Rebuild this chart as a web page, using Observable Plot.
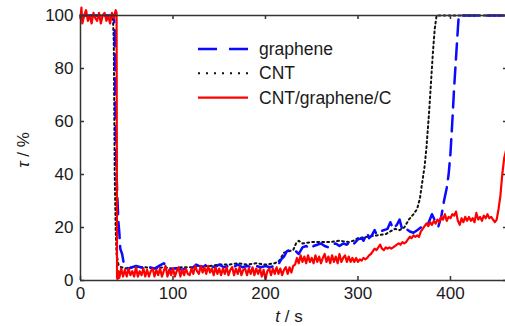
<!DOCTYPE html>
<html><head><meta charset="utf-8">
<script src="https://cdn.jsdelivr.net/npm/d3@7"></script>
<script src="https://cdn.jsdelivr.net/npm/@observablehq/plot@0.6"></script>
<style>html,body{margin:0;padding:0;background:#fff;}#chart{position:relative;width:505px;height:326px;}</style>
</head><body><div id="chart"></div>
<script>
const xTicks = [0, 100, 200, 300, 400];
const yTicks = [0, 20, 40, 60, 80, 100];
const seriesNames = ["graphene", "CNT", "CNT/graphene/C"];
const xLabel = ["t", " / s"];
const yLabel = ["τ", " / %"];

// [t (s), τ (%)]
const graphene = [[0,100],[36,100],[37,95],[38,60],[39,40],[40,30],[41,22],[42,18],[43,12],[45,10],[47,6],[49,5],[52,4.5],[56,5],[60,5.5],[65,5],[70,4.5],[75,5],[80,4.5],[85,5.5],[90,6.5],[93,5.5],[96,4],[100,4.5],[105,4.5],[110,4],[115,5],[120,4.5],[125,6],[128,5.5],[132,5],[136,6],[140,5.5],[145,5],[150,6],[155,5],[160,5.5],[165,5],[170,6],[175,5],[180,5.5],[185,5],[190,5.5],[195,5],[200,5.5],[205,5],[210,5.5],[214,6],[217,8],[220,9],[223,11],[226,11.5],[230,11],[233,11],[236,10],[240,12.5],[244,13],[248,12],[252,13],[256,13.5],[260,14],[264,13],[268,12.5],[272,13.5],[276,14],[280,13],[284,14],[288,13.5],[292,15],[296,14],[300,15.5],[304,16],[306,15],[310,18],[312,16],[315,17],[318,19],[320,17.5],[324,18.5],[328,19],[332,19.5],[335,22],[338,19.5],[342,21],[345,23],[348,19],[352,19.5],[356,18.5],[360,18],[364,19],[368,20],[372,20.5],[376,21.5],[380,25],[384,22],[387,20.5],[390,24],[393,30],[396,35],[398,40],[400,48],[402,60],[404,73],[406,84],[408,95],[409,100],[460,100]];

const cnt = [[0,100],[35,100],[36,90],[37,40],[38,20],[39,10],[41,6],[44,5],[50,4.5],[55,5],[60,5],[70,5],[80,4.5],[90,5],[100,4.5],[110,5],[120,5],[130,5.5],[140,5.5],[150,6],[160,6],[170,6.5],[180,6],[190,6.5],[200,6],[210,6.5],[215,7.5],[220,10.5],[225,11],[230,11.5],[233,14],[236,15],[240,14],[250,14.5],[260,14.5],[270,14.5],[280,15],[290,14.5],[295,15],[300,16],[310,16.5],[320,17],[330,17.5],[335,18.5],[340,19.5],[345,19],[350,20],[355,23],[360,25],[364,27],[367,31],[369,36],[372,43],[374,50],[377,64],[379,75],[381,86],[383,95],[385,100],[460,100]];

const composite = [[0,99],[1,103],[2,97],[4,100],[6,102],[8,98],[10,100],[12,97],[14,101],[16,99],[18,98],[20,101],[22,97],[24,100],[26,101],[28,98],[30,100],[32,97],[34,101],[36,99],[38,102],[39,101],[39.5,1],[40,0.5],[41,3.5],[42,1],[44,4.5],[46,1.5],[48,4],[50,1.5],[52,4.5],[54,2],[56,3.5],[58,1.5],[60,5],[62,1.5],[64,3.5],[66,2],[68,4.5],[70,1.5],[72,4],[74,1.5],[76,3.5],[78,4.5],[80,1.5],[82,4],[84,2],[86,4.5],[88,1.5],[90,3.5],[92,5.5],[94,1.5],[96,4],[98,2],[100,4.5],[102,1.5],[104,3.5],[106,5],[108,1.5],[110,4],[112,2],[114,4.5],[116,2.5],[118,2],[120,4.5],[122,2.5],[124,5.5],[126,3.5],[128,2.5],[130,5.5],[132,3],[134,5],[136,2.5],[138,5.5],[140,3],[142,4.5],[144,2],[146,5],[148,2.5],[150,4.5],[152,2],[154,4.5],[156,2.5],[158,5],[160,2],[162,4],[164,5],[166,2],[168,4.5],[170,2.5],[172,5],[174,2],[176,4],[178,4.5],[180,2],[182,4.5],[184,2.5],[186,5],[188,2],[190,4.5],[192,2.5],[194,4.5],[196,1.5],[198,4],[200,0.5],[202,3.5],[204,4.5],[206,2],[208,4.5],[210,2.5],[212,5],[214,2.5],[216,4.5],[218,2],[220,4],[222,5],[224,2.5],[226,5],[228,3],[230,5.5],[232,6],[234,8.5],[236,6.5],[238,9.5],[240,7],[242,9],[244,6.5],[246,9.5],[248,7],[250,8.5],[252,6.5],[254,9.5],[256,7],[258,9],[260,6.5],[262,8.5],[264,10],[266,7],[268,9],[270,6.5],[272,9.5],[274,7],[276,9],[278,6.5],[280,10],[282,7],[284,8.5],[286,9.5],[288,7],[290,9],[292,7],[294,8.5],[296,7],[298,8.5],[300,7],[302,8],[304,7.5],[306,8.5],[308,8],[310,8.5],[312,9.5],[314,10],[316,11],[318,12],[320,11.5],[322,12.5],[324,13.5],[326,12],[328,11.5],[330,12.5],[332,12],[334,12.5],[336,12],[338,12.5],[340,13],[342,13.5],[344,14],[346,13.5],[348,14.5],[350,14],[352,14.5],[354,15.5],[356,16.5],[358,16],[360,17],[362,16.5],[364,17],[366,16.5],[368,18.5],[370,19.5],[372,20.5],[374,21.5],[376,20.5],[378,22],[380,21],[382,22.5],[384,21.5],[386,23],[388,22],[390,24],[392,23],[394,25],[396,22.5],[398,24],[400,23.5],[402,25],[404,24.5],[406,26],[408,22.5],[410,21],[412,23.5],[414,22],[416,24],[418,22.5],[420,24],[422,22.5],[424,23.5],[426,22],[428,25.5],[430,23],[432,24],[434,22.5],[436,24.5],[438,23.5],[440,25],[442,23.5],[444,24],[446,23],[448,22],[450,23],[452,27],[454,32],[456,40],[458,46],[460,49]];

const colors = ["#0a0aff", "#111111", "#ff0000"];
const rows = (arr) => arr.map(([t, v]) => ({t, v}));
const axisColor = "#333";
const FONT = "'Liberation Sans', Arial, Helvetica, sans-serif";

const plot = Plot.plot({
  width: 505, height: 326,
  marginLeft: 80, marginRight: 0, marginTop: 15, marginBottom: 46,
  style: {fontFamily: FONT, fontSize: "17px", color: "#1a1a1a", background: "#fff", overflow: "visible"},
  x: {domain: [0, 459.5]},
  y: {domain: [0, 100]},
  marks: [
    Plot.line(rows(cnt), {x: "t", y: "v", stroke: colors[1], strokeWidth: 2, strokeDasharray: "1.8,3.2", clip: false}),
    Plot.line(rows(graphene), {x: "t", y: "v", stroke: colors[0], strokeWidth: 2.5, strokeDasharray: "16,8", clip: false}),
    Plot.line(rows(composite), {x: "t", y: "v", stroke: colors[2], strokeWidth: 2.2, clip: false}),
    Plot.ruleX([0], {stroke: axisColor, strokeWidth: 1.5}),
    Plot.ruleY([0, 100], {stroke: axisColor, strokeWidth: 1.5}),
    Plot.axisX({anchor: "bottom", ticks: xTicks, tickSize: -4, tickPadding: 10, label: null, stroke: axisColor, strokeWidth: 1.5, fontSize: 17, fill: "#1a1a1a"}),
    Plot.axisX({anchor: "top", ticks: xTicks, tickSize: -3, tickFormat: () => "", label: null, stroke: axisColor, strokeWidth: 1.5}),
    Plot.axisY({anchor: "left", ticks: yTicks, tickSize: -4, tickPadding: 11, label: null, stroke: axisColor, strokeWidth: 1.5, fontSize: 17, fill: "#1a1a1a"}),
    Plot.axisY({anchor: "right", ticks: yTicks, tickSize: -3, tickFormat: () => "", label: null, stroke: axisColor, strokeWidth: 1.5})
  ]
});

const svg = d3.select(plot);
// axis titles
const xt = svg.append("text").attr("x", 289).attr("y", 322).attr("text-anchor", "middle")
  .attr("font-family", FONT).attr("font-size", 17).attr("fill", "#1a1a1a");
xt.append("tspan").attr("font-style", "italic").text(xLabel[0]);
xt.append("tspan").text(xLabel[1]);
const yt = svg.append("text").attr("transform", "translate(29,150) rotate(-90)").attr("text-anchor", "middle")
  .attr("font-family", FONT).attr("font-size", 17).attr("fill", "#1a1a1a");
yt.append("tspan").attr("font-style", "italic").text(yLabel[0]);
yt.append("tspan").text(yLabel[1]);

// legend
const legend = svg.append("g").attr("font-family", FONT).attr("font-size", 17.5).attr("fill", "#1a1a1a").attr("text-anchor", "start");
const legendDash = ["19,12", "2,6", null];
const legendWidth = [2.5, 2, 2.2];
seriesNames.forEach((name, i) => {
  const ly = 49 + i * 24.3;
  const l = legend.append("line").attr("x1", 198).attr("x2", 248).attr("y1", ly).attr("y2", ly)
    .attr("stroke", colors[i]).attr("stroke-width", legendWidth[i]);
  if (legendDash[i]) l.attr("stroke-dasharray", legendDash[i]);
  legend.append("text").attr("x", 259).attr("y", ly + 6).attr("text-anchor", "start").text(name);
});

document.getElementById("chart").appendChild(plot);
</script>
</body></html>
